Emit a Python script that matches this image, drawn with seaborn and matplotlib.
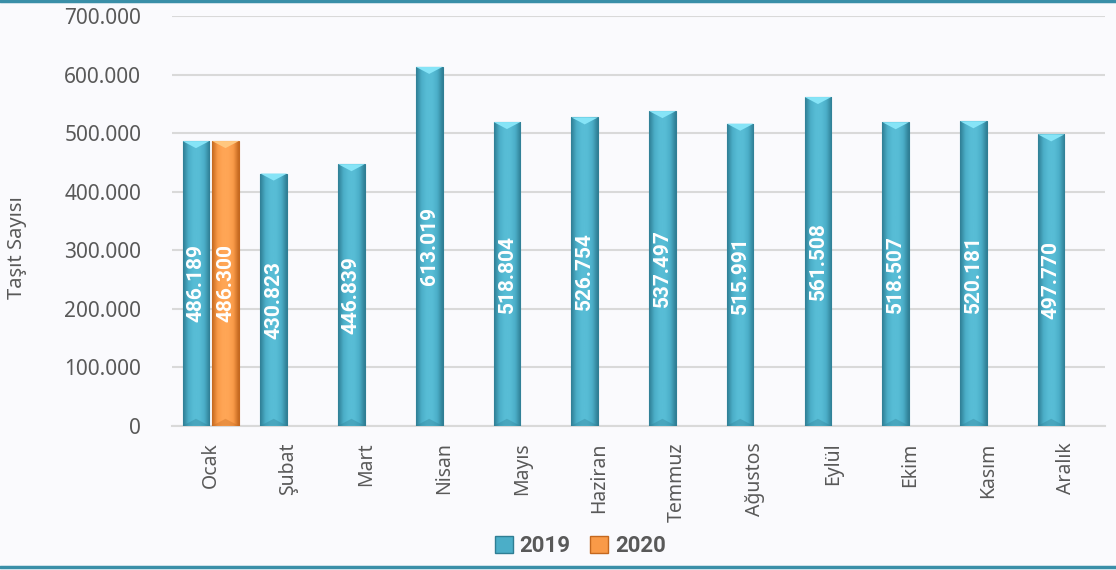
import numpy as np
import pandas as pd
import matplotlib.pyplot as plt
import seaborn as sns
from matplotlib.lines import Line2D
from matplotlib.colors import LinearSegmentedColormap

months = ['Ocak', 'Şubat', 'Mart', 'Nisan', 'Mayıs', 'Haziran', 'Temmuz',
          'Ağustos', 'Eylül', 'Ekim', 'Kasım', 'Aralık']
vals_2019 = [486189, 430823, 446839, 613019, 518804, 526754, 537497,
             515991, 561508, 518507, 520181, 497770]
vals_2020 = [486300] + [np.nan] * 11
years = ['2019', '2020']
colors = {'2019': '#4BAEC8', '2020': '#F99A48'}
dark = {'2019': '#2F7E94', '2020': '#C4681F'}
light = {'2019': '#58BDD6', '2020': '#FFA656'}
top = {'2019': '#86E4F7', '2020': '#FFC77F'}

df = pd.DataFrame({
    'ay': months * 2,
    'yil': ['2019'] * 12 + ['2020'] * 12,
    'tasit': vals_2019 + vals_2020,
})

sns.set_style('white')
plt.rcParams['font.family'] = ['Noto Sans', 'DejaVu Sans']
bold_font = ['Roboto', 'DejaVu Sans']

fig = plt.figure(figsize=(11.16, 5.7), dpi=100, facecolor='#FAFAFD')
ax = fig.add_axes([0.154, 0.253, 0.836, 0.719])
ax.set_facecolor('#FAFAFD')

sns.barplot(data=df, x='ay', y='tasit', hue='yil', hue_order=years,
            palette=colors, width=0.76, gap=0.1, ax=ax, legend=False,
            edgecolor='none', zorder=3)

# shaded bars (bevel look)
for cont, yr in zip(ax.containers, years):
    cmap = LinearSegmentedColormap.from_list(
        yr, [dark[yr], colors[yr], light[yr], light[yr], colors[yr], dark[yr]])
    grad = np.linspace(0, 1, 64).reshape(1, -1)
    for p in cont.patches:
        h = p.get_height()
        if not np.isfinite(h) or h == 0:
            continue
        x0 = p.get_x()
        w = p.get_width()
        im = ax.imshow(grad, cmap=cmap, aspect='auto', zorder=3.5,
                       extent=[x0, x0 + w, 0, h], interpolation='bicubic')
        im.set_clip_path(p)
        p.set_edgecolor(dark[yr])
        p.set_linewidth(0.8)
        # top and bottom bevel
        tri = plt.Polygon([[x0, h], [x0 + w, h], [x0 + w * 0.5, h - 12000]],
                          closed=True, facecolor=top[yr], edgecolor='none', zorder=3.7)
        ax.add_patch(tri)
        tri2 = plt.Polygon([[x0, 0], [x0 + w, 0], [x0 + w * 0.5, 12000]],
                           closed=True, facecolor=dark[yr], edgecolor='none',
                           alpha=0.35, zorder=3.7)
        ax.add_patch(tri2)

for cont, yr in zip(ax.containers, years):
    labels = []
    for p in cont.patches:
        h = p.get_height()
        labels.append('' if not np.isfinite(h) else f'{h:,.0f}'.replace(',', '.'))
    txts = ax.bar_label(cont, labels=labels, label_type='center', rotation=90,
                        color='white', fontweight='bold', fontsize=15,
                        family=bold_font)
    for t in txts:
        t.set_zorder(5)

ax.set_xlim(-0.5, 11.5)
ax.set_ylim(0, 700000)
ax.set_yticks(np.arange(0, 700001, 100000))
ax.set_yticklabels([f'{v:,.0f}'.replace(',', '.') for v in np.arange(0, 700001, 100000)],
                   fontsize=15, color='#595959')
ax.set_xticks(range(12))
ax.set_xticklabels(months, rotation=90, fontsize=14, color='#595959')
ax.tick_params(axis='both', length=0)
ax.tick_params(axis='x', pad=12)
ax.tick_params(axis='y', pad=22)
ax.grid(axis='y', color='#D9D9D9', linewidth=1.5, zorder=0)
ax.set_axisbelow(True)
for s in ['top', 'right', 'left']:
    ax.spines[s].set_visible(False)
ax.spines['bottom'].set_color('#D9D9D9')
ax.spines['bottom'].set_linewidth(1.5)
ax.set_xlabel('')
ax.set_ylabel('Taşıt Sayısı', fontsize=14.5, color='#595959')
ax.yaxis.set_label_coords(-0.155, 0.434)

handles = [plt.Rectangle((0, 0), 1, 1, facecolor=colors[y], edgecolor=dark[y]) for y in years]
leg = fig.legend(handles, years, loc='center', bbox_to_anchor=(0.52, 0.042), ncol=2,
                 frameon=False, handlelength=0.8, handleheight=0.8, handletextpad=0.3,
                 columnspacing=0.9, prop={'weight': 'bold', 'size': 16, 'family': bold_font})
for t in leg.get_texts():
    t.set_color('#595959')

fig.add_artist(Line2D([0, 1], [0.998, 0.998], color='#3A8FA8', linewidth=2.5))
fig.add_artist(Line2D([0, 1], [0.006, 0.006], color='#3A8FA8', linewidth=2.5))

fig.savefig('out.png', dpi=100, facecolor=fig.get_facecolor())
